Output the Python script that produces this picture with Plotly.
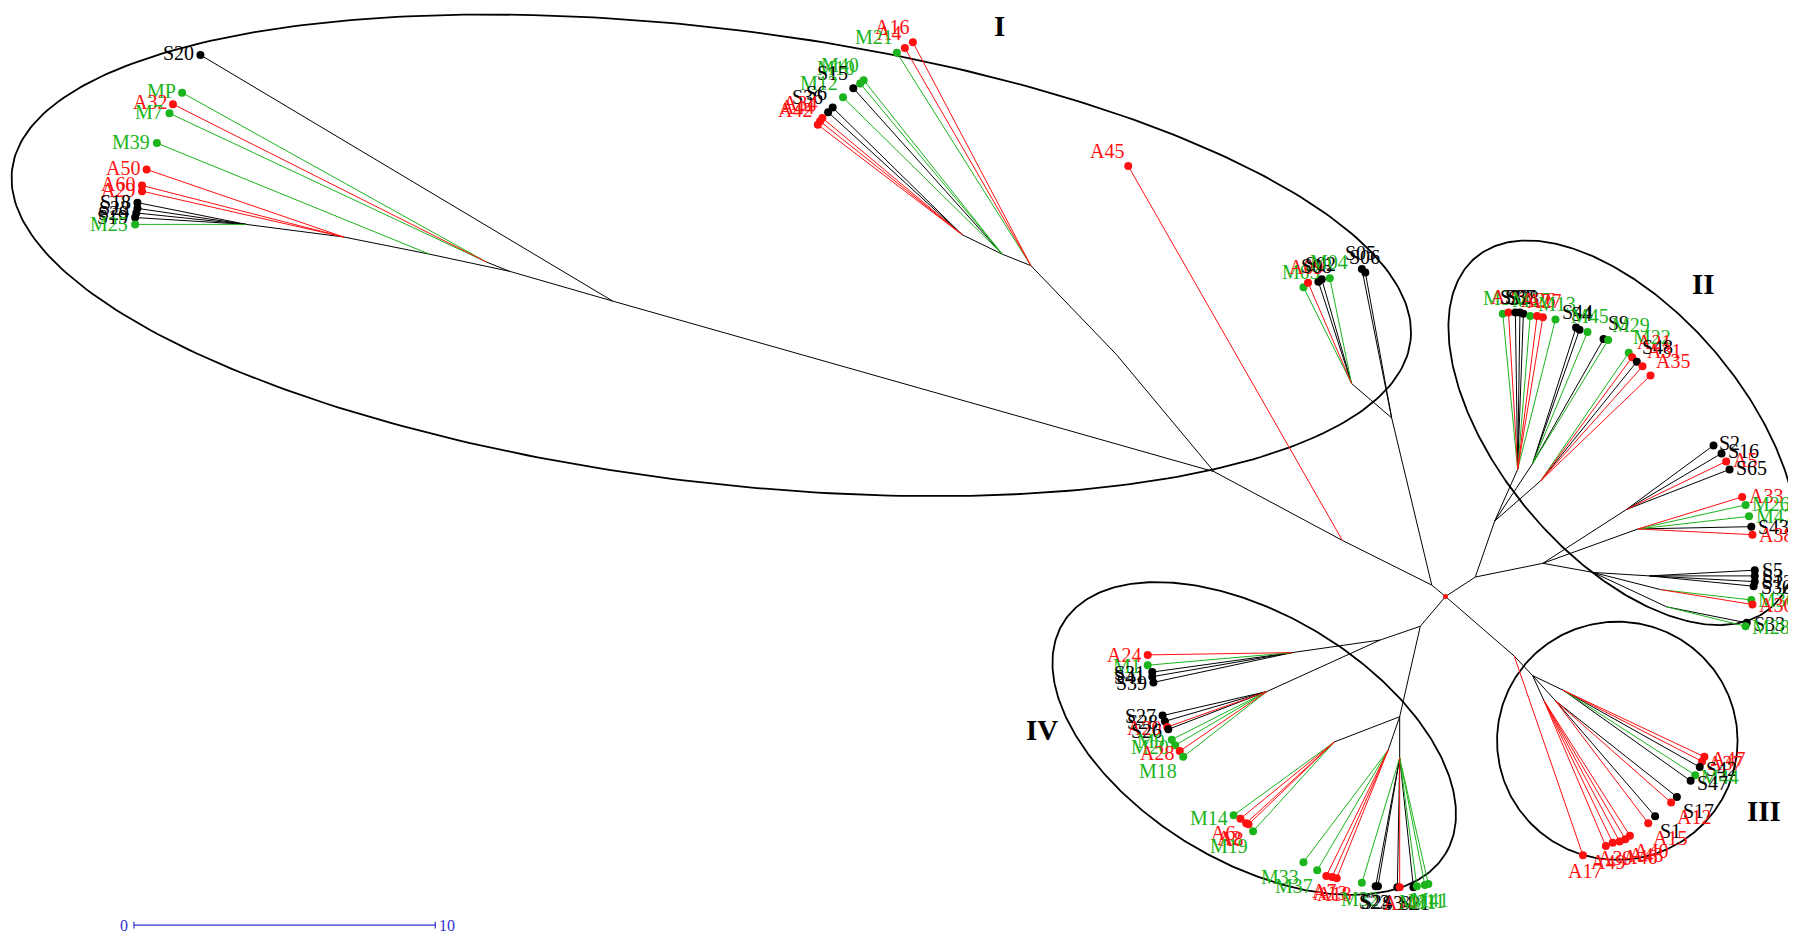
import math
import plotly.graph_objects as go

# ---------------- data: tree layout (picture units, y grows downward) ----------------
node_names = ["C", "T1", "T2", "T3", "L6", "L5", "L4", "L3", "L2", "L1",
              "U5", "U4", "U3", "U2", "S0", "Sa",
              "IIa", "IIup", "IIt1", "IIt2", "IIt3", "IIlow", "IIs2", "IIa33", "IIl0", "IIl1", "IIl2", "IIl3",
              "IIIa", "IIIb", "IIIc", "IIId", "IIIe",
              "IVa", "IVu", "IVu1", "IVu2", "IVd", "IVd1", "IVd2", "IVd3"]
node_x = [1262, 1250, 1172, 1060, 535, 445, 425, 375, 300, 215,
          975, 900, 875, 840, 1215, 1180,
          1288, 1305, 1325, 1338, 1345, 1347, 1420, 1430, 1391, 1440, 1450, 1455,
          1322, 1338, 1348, 1358, 1365,
          1240, 1205, 1128, 1106, 1222, 1222, 1212, 1165]
node_y = [521, 511, 472, 412, 263, 237, 229, 222, 207, 196,
          310, 232, 222, 205, 365, 335,
          504, 455, 410, 405, 420, 492, 445, 462, 500, 503, 515, 530,
          573, 590, 612, 612, 603,
          547, 559, 570, 604, 626, 662, 655, 648]
node_parent = [None, "C", "T1", "T2", "T3", "L6", "L5", "L5", "L3", "L2",
               "T3", "U5", "U4", "U3", "T1", "S0",
               "C", "IIa", "IIup", "IIup", "IIup", "IIa", "IIlow", "IIlow", "IIlow", "IIl0", "IIl0", "IIl0",
               "C", "IIIa", "IIIb", "IIIb", "IIIb",
               "C", "IVa", "IVu", "IVu", "IVa", "IVd", "IVd", "IVd"]

tip_names = ["S20", "MP", "A32", "M7", "M39", "A50", "A60", "A29", "S18", "S22", "S29", "S19", "M25",
             "A16", "A4", "M21", "M40", "M10", "S15", "M12", "S6", "S36", "A34", "A44", "A42",
             "A45",
             "M03", "A09", "S08", "S02", "M04", "S05", "S06",
             "M35", "A36", "S32", "S37", "S38", "M17", "A26", "A27", "M13",
             "S44", "S4", "M45", "S9", "M29",
             "M22", "A21", "S48", "A31", "A35",
             "S2", "S16", "A5", "S65",
             "A33", "M26", "M47", "S43", "A38",
             "S5", "S3", "S12", "S30", "M36", "A30", "S33", "M28",
             "A47", "A37", "S42", "M44", "S47", "S17", "A12", "S1", "A15",
             "A40", "A43", "A46", "A39", "A49", "A17",
             "A24", "M1", "S31", "S41", "S39",
             "S27", "S28", "A20", "S26", "M9", "M20", "A28", "M18",
             "M14", "A6", "A2", "A8", "M19",
             "M33", "M37", "A7", "A13", "A18",
             "M32", "S23", "S24", "S34", "A14", "S21", "M31", "M11", "M41"]
tip_x = [175, 159, 151, 148, 137, 128, 124, 124, 120, 120, 119, 118, 118,
         797, 790, 783, 754, 751, 745, 736, 727, 723, 718, 716, 714,
         985,
         1138, 1142, 1151, 1154, 1161, 1189, 1192,
         1312, 1317, 1323, 1327, 1330, 1336, 1342, 1347, 1358,
         1376, 1379, 1386, 1400, 1404,
         1422, 1425, 1429, 1434, 1441,
         1496, 1503, 1507, 1510,
         1521, 1524, 1527, 1529, 1530,
         1532, 1532, 1532, 1531, 1529, 1530, 1525, 1524,
         1488, 1486, 1484, 1480, 1476, 1464, 1459, 1445, 1439,
         1423, 1419, 1414, 1408, 1402, 1382,
         1002, 1002, 1006, 1006, 1007,
         1015, 1017, 1019, 1020, 1023, 1026, 1030, 1033,
         1077, 1083, 1088, 1090, 1094,
         1138, 1150, 1158, 1163, 1167,
         1189, 1201, 1203, 1220, 1222, 1234, 1237, 1244, 1247]
tip_y = [48, 81, 91, 99, 125, 148, 162, 167, 177, 182, 186, 190, 196,
         37, 42, 46, 70, 73, 77, 85, 94, 98, 103, 106, 109,
         145,
         251, 247, 246, 244, 243, 235, 238,
         274, 273, 273, 273, 274, 276, 276, 277, 279,
         286, 288, 290, 296, 297,
         308, 312, 316, 320, 328,
         389, 396, 403, 410,
         434, 441, 451, 460, 467,
         498, 503, 508, 512, 524, 528, 544, 547,
         661, 665, 670, 677, 682, 696, 701, 713, 719,
         730, 733, 735, 736, 739, 747,
         572, 581, 587, 591, 596,
         625, 630, 635, 637, 646, 651, 656, 661,
         712, 715, 719, 720, 726,
         753, 760, 765, 766, 767,
         771, 774, 774, 775, 775, 775, 774, 773, 772]
tip_parent = ["L6", "L4", "L4", "L4", "L3", "L2", "L2", "L2", "L1", "L1", "L1", "L1", "L1",
              "U4", "U4", "U4", "U3", "U3", "U3", "U3", "U2", "U2", "U2", "U2", "U2",
              "T2",
              "Sa", "Sa", "Sa", "Sa", "Sa", "S0", "S0",
              "IIt1", "IIt1", "IIt1", "IIt1", "IIt1", "IIt1", "IIt1", "IIt1", "IIt1",
              "IIt2", "IIt2", "IIt2", "IIt2", "IIt2",
              "IIt3", "IIt3", "IIt3", "IIt3", "IIt3",
              "IIs2", "IIs2", "IIs2", "IIs2",
              "IIa33", "IIa33", "IIa33", "IIa33", "IIa33",
              "IIl1", "IIl1", "IIl1", "IIl1", "IIl2", "IIl2", "IIl3", "IIl3",
              "IIIe", "IIIe", "IIIe", "IIIe", "IIIe", "IIId", "IIId", "IIId", "IIId",
              "IIIc", "IIIc", "IIIc", "IIIc", "IIIc", "IIIa",
              "IVu1", "IVu1", "IVu1", "IVu1", "IVu1",
              "IVu2", "IVu2", "IVu2", "IVu2", "IVu2", "IVu2", "IVu2", "IVu2",
              "IVd3", "IVd3", "IVd3", "IVd3", "IVd3",
              "IVd2", "IVd2", "IVd2", "IVd2", "IVd2",
              "IVd1", "IVd1", "IVd1", "IVd1", "IVd1", "IVd1", "IVd1", "IVd1", "IVd1"]

group_labels = ["I", "II", "III", "IV"]
group_label_x = [873, 1487, 1540, 910]
group_label_y = [23, 248, 708, 638]

# ellipses around the groups: centre, semi-axes, tilt (degrees)
ell_cx = [621, 1417, 1412, 1095]
ell_cy = [223, 378, 647, 645]
ell_a = [615, 200, 105, 195]
ell_b = [198, 107, 104, 108]
ell_tilt = [7, 50, 0, 31]

scale_values = [0, 10]
scale_x = [117, 380]
scale_y = 808

# ---------------- styling ----------------
COL = {"A": "#ff1010", "M": "#1cb41c", "S": "#000000"}
LABEL_FONT = "Liberation Serif, Times New Roman, serif"

pos = {n: (x, y) for n, x, y in zip(node_names, node_x, node_y)}


def tip_color(name):
    return COL.get(name[0], "#000000")


fig = go.Figure()

# ellipses
for cx, cy, a, b, th in zip(ell_cx, ell_cy, ell_a, ell_b, ell_tilt):
    t = math.radians(th)
    xs, ys = [], []
    for k in range(361):
        s = math.radians(k)
        xs.append(cx + a * math.cos(s) * math.cos(t) - b * math.sin(s) * math.sin(t))
        ys.append(cy + a * math.cos(s) * math.sin(t) + b * math.sin(s) * math.cos(t))
    fig.add_trace(go.Scatter(x=xs, y=ys, mode="lines", line=dict(color="black", width=1.8),
                             hoverinfo="skip"))

# internal branches
bx, by = [], []
for n, p in zip(node_names, node_parent):
    if p is None:
        continue
    bx += [pos[p][0], pos[n][0], None]
    by += [pos[p][1], pos[n][1], None]
fig.add_trace(go.Scatter(x=bx, y=by, mode="lines", line=dict(color="black", width=1),
                         hoverinfo="skip"))

# terminal branches by colour
for key in ["S", "M", "A"]:
    lx, ly = [], []
    for n, x, y, p in zip(tip_names, tip_x, tip_y, tip_parent):
        if n[0] != key:
            continue
        lx += [pos[p][0], x, None]
        ly += [pos[p][1], y, None]
    fig.add_trace(go.Scatter(x=lx, y=ly, mode="lines", line=dict(color=COL[key], width=1),
                             hoverinfo="skip"))

# tip markers
fig.add_trace(go.Scatter(x=tip_x, y=tip_y, mode="markers",
                         marker=dict(size=8, color=[tip_color(n) for n in tip_names]),
                         text=tip_names, hoverinfo="text"))
# centre
fig.add_trace(go.Scatter(x=[pos["C"][0]], y=[pos["C"][1]], mode="markers",
                         marker=dict(size=5, color="#ff1010"), hoverinfo="skip"))

# tip labels placed outward along each terminal branch
for n, x, y, p in zip(tip_names, tip_x, tip_y, tip_parent):
    dx, dy = x - pos[p][0], y - pos[p][1]
    d = math.hypot(dx, dy) or 1.0
    ux, uy = dx / d, dy / d
    xa = "right" if ux < -0.45 else ("left" if ux > 0.45 else "center")
    ya = "bottom" if uy < -0.6 else ("top" if uy > 0.6 else "middle")
    fig.add_annotation(x=x, y=y, text=n, showarrow=False, xanchor=xa, yanchor=ya,
                       xshift=ux * 6, yshift=-uy * 4, borderpad=0,
                       font=dict(family=LABEL_FONT, size=20, color=tip_color(n)))

# group numerals
for t, x, y in zip(group_labels, group_label_x, group_label_y):
    fig.add_annotation(x=x, y=y, text="<b>%s</b>" % t, showarrow=False, borderpad=0,
                       font=dict(family=LABEL_FONT, size=29, color="black"))

# scale bar
fig.add_trace(go.Scatter(x=[scale_x[0], scale_x[1]], y=[scale_y, scale_y], mode="lines",
                         line=dict(color="#3030d0", width=1.2), hoverinfo="skip"))
for sx in scale_x:
    fig.add_trace(go.Scatter(x=[sx, sx], y=[scale_y - 3, scale_y + 3], mode="lines",
                             line=dict(color="#3030d0", width=1.2), hoverinfo="skip"))
fig.add_annotation(x=scale_x[0], y=scale_y, text=str(scale_values[0]), showarrow=False,
                   xanchor="right", xshift=-4, font=dict(family=LABEL_FONT, size=16, color="#3030d0"))
fig.add_annotation(x=scale_x[1], y=scale_y, text=str(scale_values[1]), showarrow=False,
                   xanchor="left", xshift=2, font=dict(family=LABEL_FONT, size=16, color="#3030d0"))

# the page body adds an 8 px margin, so the figure is 8 px smaller and the
# visible range starts 7 picture units in
fig.update_layout(width=1788, height=932, margin=dict(l=0, r=0, t=0, b=0),
                  paper_bgcolor="white", plot_bgcolor="white", showlegend=False,
                  xaxis=dict(range=[7, 1568], visible=False, fixedrange=True),
                  yaxis=dict(range=[821, 7], visible=False, fixedrange=True))

fig.write_html("out.html")
